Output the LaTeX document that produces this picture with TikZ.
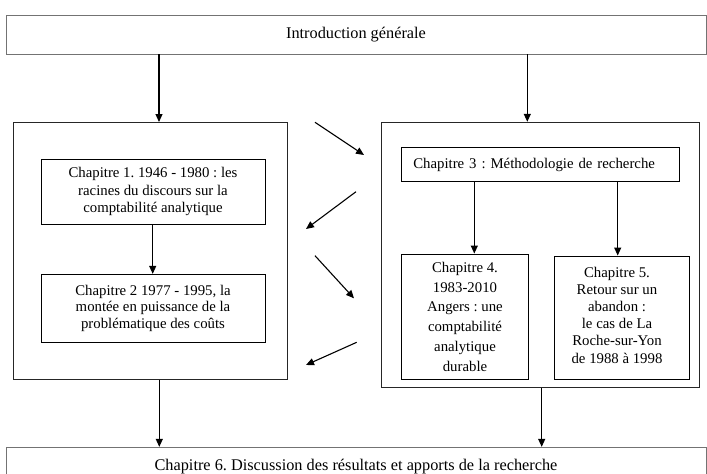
\documentclass[tikz,border=0pt]{standalone}
\usepackage{fontspec}
\setmainfont{Liberation Serif}
\usetikzlibrary{arrows.meta}
\frenchspacing
\begin{document}
\begin{tikzpicture}[x=1pt,y=-1pt,
  outerbox/.style={draw=black!55, line width=0.9pt, inner sep=0pt, font=\fontsize{16.3}{19}\selectfont},
  bigbox/.style={draw=black!85, line width=1pt, inner sep=0pt},
  chbox/.style={draw=black, line width=0.9pt, inner sep=0pt, align=center, font=\fontsize{14.8}{17.2}\selectfont},
  chtext/.style={inner sep=0pt, align=center, font=\fontsize{14.8}{17.2}\selectfont},
  arr/.style={draw=black, line width=1.1pt, -{Triangle[length=8pt,width=7pt]}},
]
\useasboundingbox (0,0) rectangle (707,474);
\clip (0,0) rectangle (707,474);

% outer boxes
\node[outerbox, minimum width=700, minimum height=39] (intro) at (356,34.5) {Introduction générale};
\node[outerbox, minimum width=700, minimum height=38.8] (ch6) at (356,466.7) {Chapitre 6. Discussion des résultats et apports de la recherche};

% big boxes
\node[bigbox, minimum width=274, minimum height=256.8] (left) at (150.3,250.9) {};
\node[bigbox, minimum width=317.6, minimum height=265.2] (right) at (540.5,254.9) {};

% chapters
\node[chbox, minimum width=224, minimum height=64.7] (ch1) at (153,191.65)
  {Chapitre 1. 1946 - 1980 : les\\racines du discours sur la\\comptabilité analytique};
\node[chbox, minimum width=224, minimum height=68, font=\fontsize{14.8}{16.3}\selectfont] (ch2) at (153,308.3)
  {Chapitre 2 1977 - 1995, la\\montée en puissance de la\\problématique des coûts};
\node[chbox, align=left, inner xsep=11.6pt, text width=254.4pt, minimum height=34.4] (ch3) at (540.5,164.5)
  {Chapitre 3 : Méthodologie de recherche};
\node[chbox, minimum width=126.6, minimum height=125.3, font=\fontsize{14.8}{19.8}\selectfont] (ch4) at (465,316.65)
  {Chapitre 4.\\1983-2010\\Angers : une\\comptabilité\\analytique\\durable};
\node[chbox, minimum width=135, minimum height=123.3] (ch5) at (621.8,317.65) {};
\node[chtext] (ch5t) at (617,315)
  {Chapitre 5.\\Retour sur un\\abandon :\\le cas de La\\Roche-sur-Yon\\de 1988 à 1998};

% x positions of vertical connectors
\coordinate (xa) at (159,0);
\coordinate (xb) at (527.3,0);
\coordinate (xc) at (152.7,0);
\coordinate (xd) at (474.3,0);
\coordinate (xe) at (617.7,0);
\coordinate (xf) at (159.3,0);
\coordinate (xg) at (541.7,0);

\draw[arr] (intro.south -| xa) -- (left.north -| xa);
\draw[arr] (intro.south -| xb) -- (right.north -| xb);
\draw[arr] (ch1.south -| xc) -- (ch2.north -| xc);
\draw[arr] (ch3.south -| xd) -- (ch4.north -| xd);
\draw[arr] (ch3.south -| xe) -- (ch5.north -| xe);
\draw[arr] (left.south -| xf) -- (ch6.north -| xf);
\draw[arr] (right.south -| xg) -- (ch6.north -| xg);

% diagonal arrows between the two columns
\coordinate (d1s) at (315,122.3);   \coordinate (d1e) at (364,155);
\coordinate (d2s) at (356,191.7);   \coordinate (d2e) at (306,229);
\coordinate (d3s) at (315,255.7);   \coordinate (d3e) at (354,298.3);
\coordinate (d4s) at (356.7,342.3); \coordinate (d4e) at (306,365);
\draw[arr] (d1s) -- (d1e);
\draw[arr] (d2s) -- (d2e);
\draw[arr] (d3s) -- (d3e);
\draw[arr] (d4s) -- (d4e);
\end{tikzpicture}
\end{document}
